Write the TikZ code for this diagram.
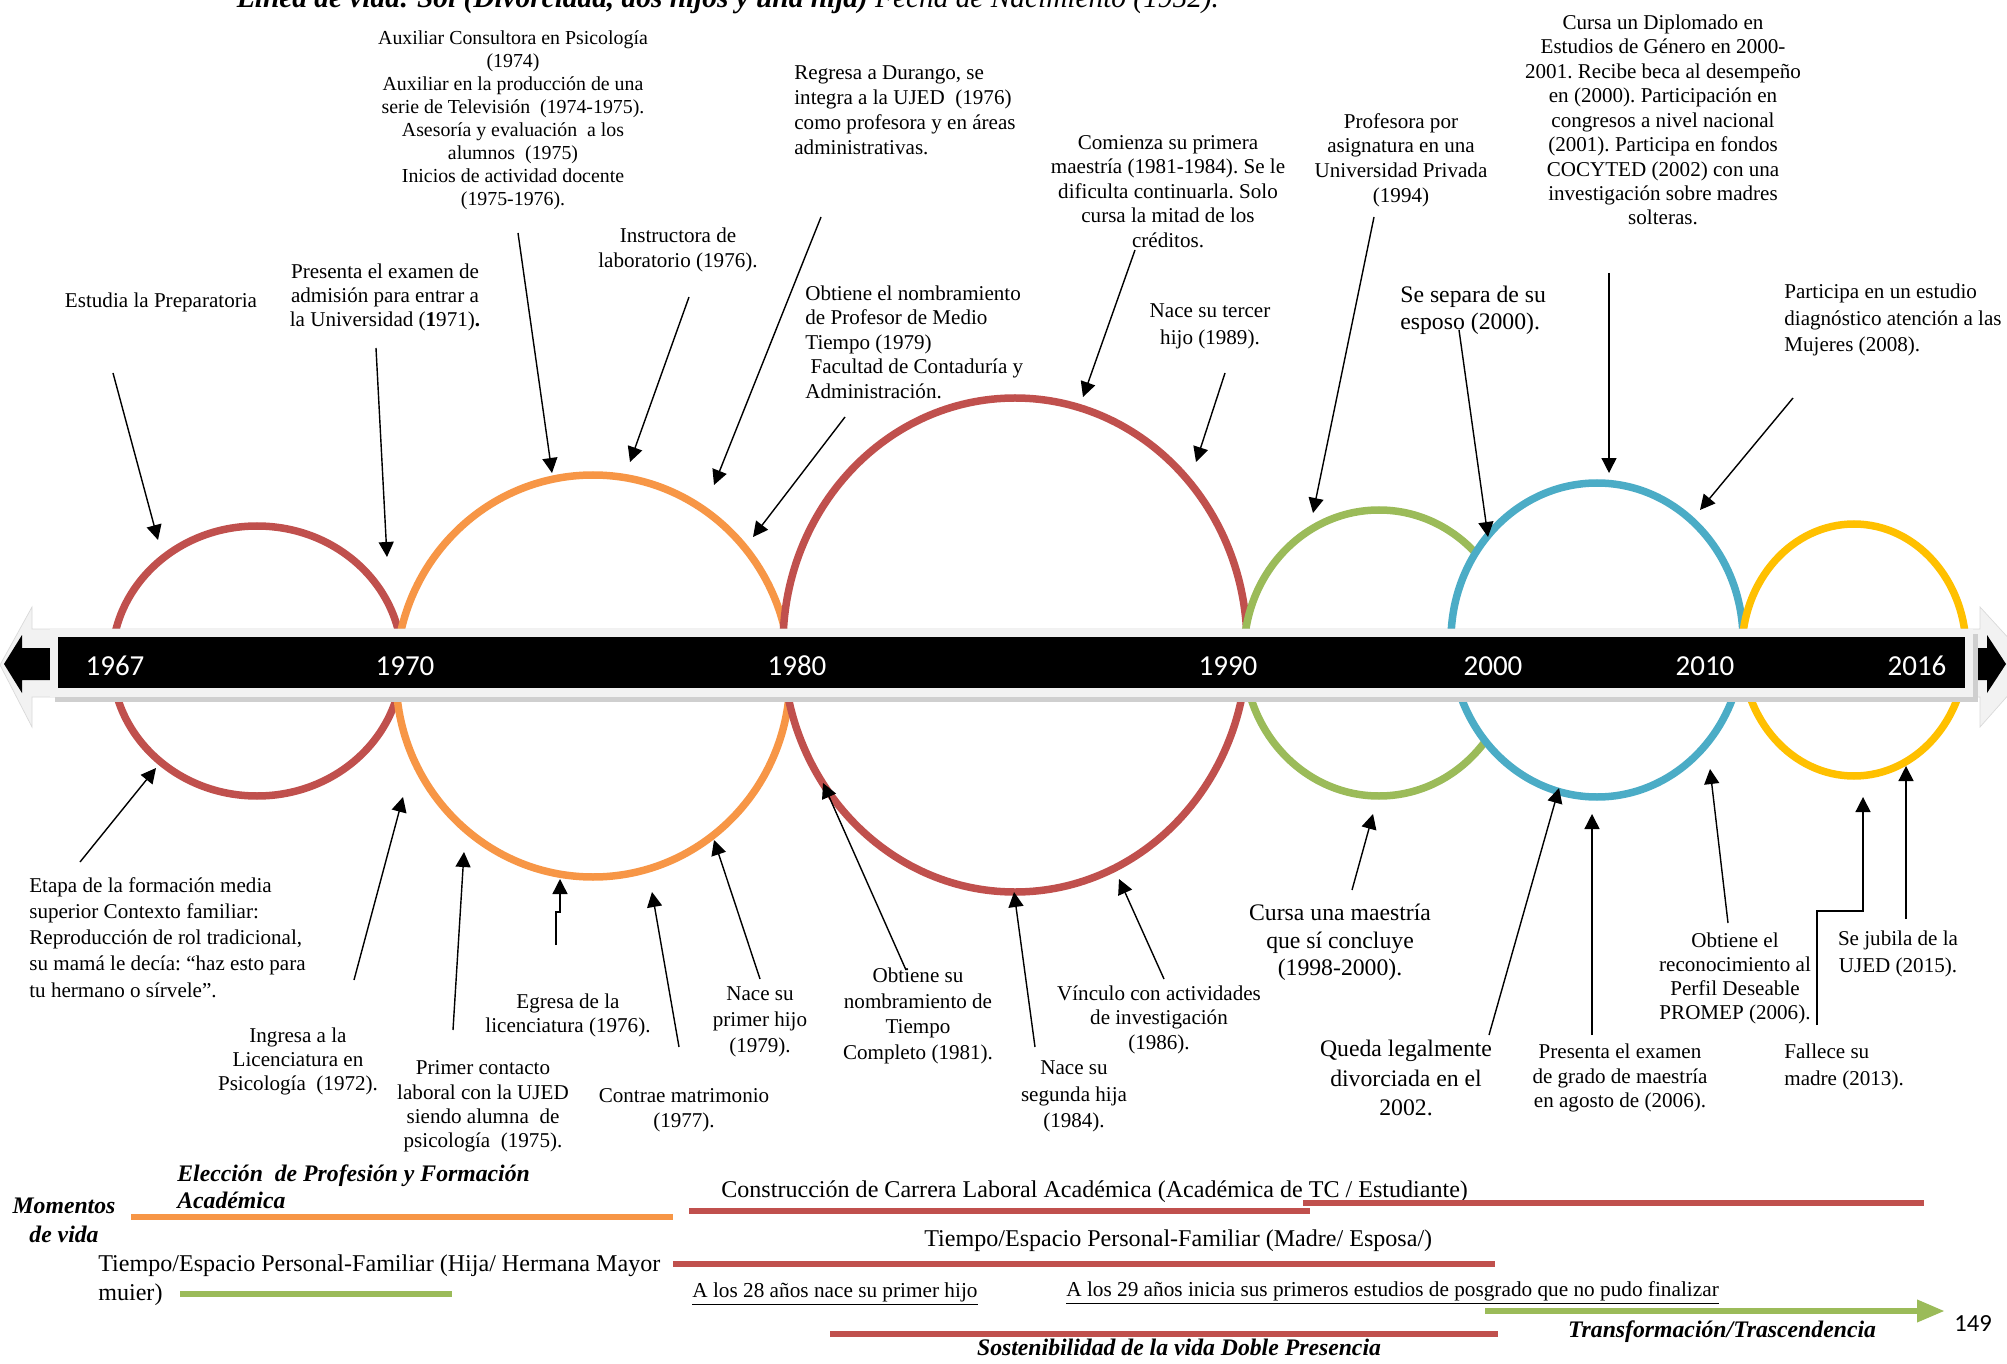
\documentclass[tikz,border=0pt]{standalone}
\usepackage{fontspec}
\setmainfont{Liberation Serif}
\newfontfamily\yearfont{Carlito}
\usetikzlibrary{arrows.meta}
\frenchspacing

\definecolor{ringred}{HTML}{C0504D}
\definecolor{ringorange}{HTML}{F79646}
\definecolor{ringgreen}{HTML}{9BBB59}
\definecolor{ringblue}{HTML}{4BACC6}
\definecolor{ringyellow}{HTML}{FFC000}
\definecolor{barlight}{HTML}{F2F2F2}
\definecolor{baredge}{HTML}{D9D9D9}
\definecolor{barshadow}{HTML}{CFCFCF}

\begin{document}
\begin{tikzpicture}[x=0.02cm, y=-0.02cm,
    ring/.style={line width=0.15cm, fill=white, draw=#1},
    pointer/.style={line width=0.8pt, -{Triangle[length=0.3cm, width=0.3cm]}},
    note/.style={inner sep=0pt, align=center, font=\fontsize{12}{#1}\selectfont},
    note/.default=14,
    bignote/.style={inner sep=0pt, align=center, font=\fontsize{13.5}{#1}\selectfont},
    bignote/.default=15.5,
    heading/.style={inner sep=0pt, align=left, font=\fontsize{13.5}{#1}\selectfont\bfseries\itshape},
    heading/.default=15.5,
    underlined/.style={inner sep=0pt, anchor=west, font=\fontsize{12.1}{14}\selectfont},
    year/.style={text=white, inner sep=0pt, font=\yearfont\fontsize{16.5}{18}\selectfont},
    stripe/.style={line width=0.13cm},
  ]
  \useasboundingbox (0,0) rectangle (2007,1364);

  \node[anchor=base, inner sep=0pt, font=\fontsize{16.7}{19}\selectfont] (title) at (728,8)
    {\textbf{\textit{Línea de vida: Sol (Divorciada, dos hijos y una hija)}} \textit{Fecha de Nacimiento (1952).}};

  % stages
  \draw[ring=ringred]    (257,661)  ellipse [x radius=145, y radius=135];
  \draw[ring=ringorange] (593,676)  ellipse [x radius=197, y radius=201];
  \draw[ring=ringred]    (1015,645) ellipse [x radius=232, y radius=247];
  \draw[ring=ringgreen]  (1379,653) ellipse [x radius=135, y radius=143];
  \draw[ring=ringblue]   (1597,640) ellipse [x radius=146, y radius=157];
  \draw[ring=ringyellow] (1854,650) ellipse [x radius=112, y radius=126];

  % timeline bar
  \filldraw[fill=barlight, draw=baredge]
    (0,665) -- (32,607) -- (32,629) -- (1980,629) -- (1980,607) -- (2034,666)
    -- (1980,727) -- (1980,697) -- (32,697) -- (32,727) -- cycle;
  \fill[black]
    (4,664) -- (22,635) -- (22,648) -- (1987,648) -- (1987,635) -- (2006,664)
    -- (1987,693) -- (1987,680) -- (22,680) -- (22,693) -- cycle;
  \fill[barshadow] (55,634) rectangle (1978,702);
  \fill[barlight] (50,629) rectangle (1973,697);
  \fill[black] (58,637) rectangle (1965,688);
  \foreach \yr/\xx in {1967/115, 1970/405, 1980/797, 1990/1228, 2000/1493, 2010/1705, 2016/1917}
    \node[year] (y\yr) at (\xx,666) {\yr};

  % events above the bar
  \node[note] (prepa) at (161,302) {Estudia la Preparatoria};
  \node[note=13.9] (examen) at (385,297.5)
    {Presenta el examen de\\admisión para entrar a\\la Universidad (\textbf{1}971)\textbf{.}};
  \node[note, font=\fontsize{11.3}{13.1}\selectfont] (auxiliar) at (513,120)
    {Auxiliar Consultora en Psicología\\(1974)\\Auxiliar en la producción de una\\serie de Televisión\ \ (1974-1975).\\Asesoría y evaluación\ \ a los\\alumnos\ \ (1975)\\Inicios de actividad docente\\(1975-1976).};
  \node[note=14.7] (instructora) at (678,250) {Instructora de\\laboratorio (1976).};
  \node[note=14.2, align=left, anchor=west] (durango) at (794,110.5)
    {Regresa a Durango, se\\integra a la UJED\ \ (1976)\\como profesora y en áreas\\administrativas.};
  \node[note=13.9, align=left, anchor=west] (mediotiempo) at (805,342)
    {Obtiene el nombramiento\\de Profesor de Medio\\Tiempo (1979)\\\hspace{3pt}Facultad de Contaduría y\\Administración.};
  \node[note] (maestria) at (1168,191.5)
    {Comienza su primera\\maestría (1981-1984). Se le\\dificulta continuarla. Solo\\cursa la mitad de los\\créditos.};
  \node[note=15.3] (tercer) at (1210,326.5) {Nace su tercer\\hijo (1989).};
  \node[note] (privada) at (1401,160) {Profesora por\\asignatura en una\\Universidad Privada\\(1994)};
  \node[bignote=15.3, align=left, anchor=west] (separa) at (1400,310.5) {Se separa de su\\esposo (2000).};
  \node[note=13.9] (diplomado) at (1663,120)
    {Cursa un Diplomado en\\Estudios de Género en 2000-\\2001. Recibe beca al desempeño\\en (2000). Participación en\\congresos a nivel nacional\\(2001). Participa en fondos\\COCYTED (2002) con una\\investigación sobre madres\\solteras.};
  \node[note=15.3, align=left, anchor=west] (estudio) at (1784,320)
    {Participa en un estudio\\diagnóstico atención a las\\Mujeres (2008).};

  % events below the bar
  \node[note=14.9, align=left, anchor=west] (etapa) at (29,937.5)
    {Etapa de la formación media\\superior Contexto familiar:\\Reproducción de rol tradicional,\\su mamá le decía: “haz esto para\\tu hermano o sírvele”.};
  \node[note=13.9] (ingresa) at (298,1061.5) {Ingresa a la\\Licenciatura en\\Psicología\ \ (1972).};
  \node[note=13.8] (contacto) at (483,1106.5)
    {Primer contacto\\laboral con la UJED\\siendo alumna\ \ de\\psicología\ \ (1975).};
  \node[note=13.6] (egresa) at (568,1015) {Egresa de la\\licenciatura (1976).};
  \node[note=14.2] (matrimonio) at (684,1110.5) {Contrae matrimonio\\(1977).};
  \node[note=14.7] (primerhijo) at (760,1022) {Nace su\\primer hijo\\(1979).};
  \node[note=14.7] (completo) at (918,1016) {Obtiene su\\nombramiento de\\Tiempo\\Completo (1981).};
  \node[note=15] (segunda) at (1074,1096.5) {Nace su\\segunda hija\\(1984).};
  \node[note=13.9] (vinculo) at (1159,1019.5) {Vínculo con actividades\\de investigación\\(1986).};
  \node[bignote=15.6] (concluye) at (1340,942.5) {Cursa una maestría\\que sí concluye\\(1998-2000).};
  \node[bignote=17] (divorcio) at (1406,1078) {Queda legalmente\\divorciada en el\\2002.};
  \node[note=14.2] (grado) at (1620,1078) {Presenta el examen\\de grado de maestría\\en agosto de (2006).};
  \node[note=13.8] (promep) at (1735,978.5) {Obtiene el\\reconocimiento al\\Perfil Deseable\\PROMEP (2006).};
  \node[note=15.3] (jubila) at (1898,953.5) {Se jubila de la\\UJED (2015).};
  \node[note=15.3, align=left, anchor=west] (madre) at (1784,1066.5) {Fallece su\\madre (2013).};

  % pointers
  \foreach \n/\sx/\sy/\tx/\ty in {
      1/113/373/158/540, 2/376/348/387/557, 3/518/233/552/473, 4/689/297/630/462,
      5/821/217/714/485, 6/845/417/753/537, 7/1135/250/1083/397, 8/1225/373/1196/462,
      9/1374/217/1313/513, 10/1459/330/1488/537, 11/1609/273/1609/473, 12/1793/398/1700/510,
      13/80/862/156/768, 14/354/980/403/797, 15/453/1030/464/852, 17/679/1047/652/892,
      18/760/979/714/840, 19/906/970/823/783, 20/1035/1047/1014/892, 21/1164/979/1119/879,
      22/1352/890/1373/814, 23/1489/1035/1559/788, 24/1592/1035/1592/814,
      25/1728/923/1710/769, 26/1906/919/1906/766} {
    \coordinate (from\n) at (\sx,\sy);
    \coordinate (to\n) at (\tx,\ty);
    \draw[pointer] (from\n) -- (to\n);
  }
  \coordinate (from16) at (556,945);
  \coordinate (to16) at (560,879);
  \draw[pointer] (from16) -- ++(0,-33) -| (to16);
  \coordinate (from27) at (1817,1025);
  \coordinate (to27) at (1863,797);
  \draw[pointer] (from27) -- ++(0,-114) -| (to27);

  % life moments
  \node[heading=16.4, align=center] (momentos) at (64,1220) {Momentos\\de vida};
  \node[heading=15.3, anchor=west] (eleccion) at (177,1186.5) {Elección\ \ de Profesión y Formación\\Académica};
  \draw[stripe, ringorange] (131,1217) -- (673,1217);
  \node[bignote, anchor=west, font=\fontsize{13.7}{15.5}\selectfont] (carrera) at (721,1192)
    {Construcción de Carrera Laboral Académica (Académica de TC / Estudiante)};
  \draw[stripe, ringred] (689,1211) -- (1310,1211);
  \draw[stripe, ringred] (1303,1203) -- (1924,1203);
  \node[bignote, anchor=west, font=\fontsize{13.7}{15.5}\selectfont] (madreesposa) at (924,1241)
    {Tiempo/Espacio Personal-Familiar (Madre/ Esposa/)};
  \draw[stripe, ringred] (673,1264) -- (1495,1264);
  \node[bignote, align=left, anchor=west, font=\fontsize{13.7}{16.4}\selectfont] (hija) at (98,1280.5)
    {Tiempo/Espacio Personal-Familiar (Hija/ Hermana Mayor\\muier)};
  \draw[stripe, ringgreen] (180,1294) -- (452,1294);
  \node[underlined] (hijo28) at (692,1294) {\underline{A los 28 años nace su primer hijo}};
  \node[underlined] (posgrado29) at (1066,1293)
    {\underline{A los 29 años inicia sus primeros estudios de posgrado que no pudo finalizar}};
  \draw[stripe, ringgreen, -{Triangle[length=0.56cm, width=0.42cm]}] (1485,1311) -- (1945,1311);
  \draw[stripe, ringred] (830,1334) -- (1498,1334);
  \node[heading] (doble) at (1179,1347) {Sostenibilidad de la vida Doble Presencia};
  \node[heading] (trascendencia) at (1722,1332) {Transformación/Trascendencia};
  \node[inner sep=0pt, font=\yearfont\fontsize{14}{16}\selectfont] (pagina) at (1973,1324) {149};
\end{tikzpicture}
\end{document}
